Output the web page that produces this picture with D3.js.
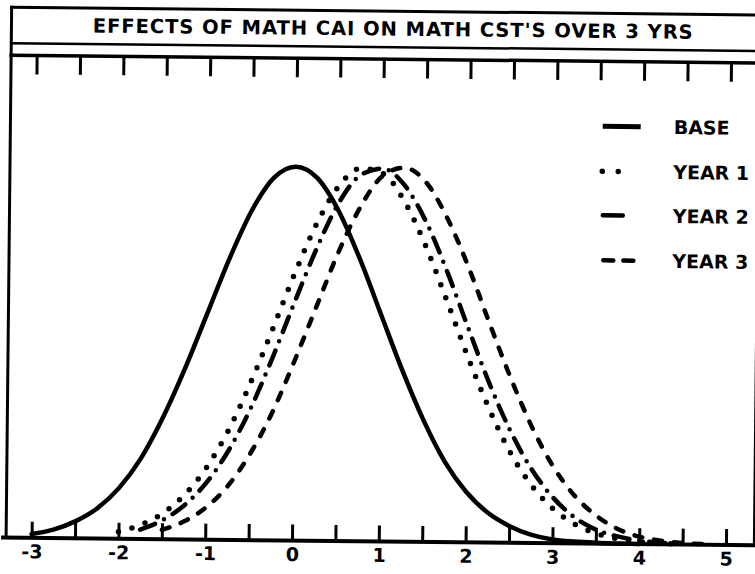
<!DOCTYPE html>
<html><head><meta charset="utf-8">
<script src="https://cdn.jsdelivr.net/npm/d3@7"></script>
<style>html,body{margin:0;padding:0;background:#fff;} svg{display:block;}</style>
</head><body>
<svg id="chart" width="755" height="574"></svg>
<script>
// ---------------- data ----------------
const chartTitle = "EFFECTS OF MATH CAI ON MATH CST'S OVER 3 YRS";
const seriesNames = ["BASE", "YEAR 1", "YEAR 2", "YEAR 3"];
const xTickValues = [-3,-2.5,-2,-1.5,-1,-0.5,0,0.5,1,1.5,2,2.5,3,3.5,4,4.5,5];
const xTickLabels = ["-3","-2","-1","0","1","2","3","4","5"];

const baseX  = [-3,-2.75,-2.5,-2.25,-2,-1.75,-1.5,-1.25,-1,-0.75,-0.5,-0.25,0,0.25,0.5,0.75,1,1.25,1.5,1.75,2,2.25,2.5,2.75,3,3.25,3.5,3.75,4];
const baseY  = [0.004,0.009,0.018,0.032,0.054,0.086,0.130,0.183,0.242,0.301,0.352,0.387,0.399,0.387,0.352,0.301,0.242,0.183,0.130,0.086,0.054,0.032,0.018,0.009,0.004,0.002,0.001,0.0005,0.0002];

const year1X = [-2,-1.75,-1.5,-1.25,-1,-0.75,-0.5,-0.25,0,0.25,0.5,0.75,1,1.25,1.5,1.75,2,2.25,2.5,2.75,3,3.25,3.5,3.75,4,4.25,4.5];
const year1Y = [0.0075,0.015,0.027,0.047,0.076,0.116,0.167,0.225,0.285,0.339,0.379,0.398,0.393,0.364,0.317,0.259,0.199,0.144,0.097,0.062,0.037,0.021,0.011,0.0055,0.0025,0.0011,0.0005];

const year2X = [-1.75,-1.5,-1.25,-1,-0.75,-0.5,-0.25,0,0.25,0.5,0.75,1,1.25,1.5,1.75,2,2.25,2.5,2.75,3,3.25,3.5,3.75,4,4.25,4.5];
const year2Y = [0.010,0.020,0.036,0.060,0.094,0.139,0.194,0.254,0.312,0.361,0.391,0.398,0.381,0.343,0.290,0.230,0.171,0.120,0.079,0.049,0.028,0.015,0.008,0.004,0.0017,0.0007];

const year3X = [-1.5,-1.25,-1,-0.75,-0.5,-0.25,0,0.25,0.5,0.75,1,1.25,1.5,1.75,2,2.25,2.5,2.75,3,3.25,3.5,3.75,4,4.25,4.5,4.75];
const year3Y = [0.010,0.019,0.034,0.057,0.091,0.135,0.190,0.249,0.308,0.357,0.390,0.399,0.384,0.346,0.294,0.234,0.176,0.124,0.082,0.051,0.030,0.016,0.008,0.004,0.0018,0.0008];

// ---------------- layout ----------------
const W = 755, H = 574;
const frameL = 8.7, frameR = 757;
const titleTop = 11, titleBot = 47, bandLine = 59, axisY = 541.4;
const FONT = "'DejaVu Sans', Verdana, sans-serif";

const svg = d3.select("#chart");
svg.append("rect").attr("width", W).attr("height", H).attr("fill", "#fff");
// whole scanned sheet is slightly rotated
const g = svg.append("g").attr("transform", "rotate(0.6,377,290)");

const x = d3.scaleLinear().domain([-3, 5]).range([34.2, 728.6]);
const y = d3.scaleLinear().domain([0, 0.4]).range([axisY, 166.6]);

// frame and title box
const frameLine = (x1, y1, x2, y2, w) => g.append("line")
  .attr("x1", x1).attr("y1", y1).attr("x2", x2).attr("y2", y2)
  .attr("stroke", "#000").attr("stroke-width", w).attr("stroke-linecap", "square");
frameLine(frameL, titleTop, frameR, titleTop, 3);
frameLine(frameL, titleBot, frameR, titleBot, 2.5);
frameLine(frameL, bandLine, frameR, bandLine, 3.5);
frameLine(frameL, titleTop, frameL, axisY, 3);
frameLine(frameR, titleTop, frameR, axisY, 3);

g.append("text").attr("x", 390).attr("y", 35.5)
  .attr("text-anchor", "middle")
  .attr("font-family", FONT).attr("font-weight", "bold").attr("font-size", 19.5)
  .attr("textLength", 600).attr("lengthAdjust", "spacing")
  .text(chartTitle);

// top tick row
const topAxis = d3.axisBottom(x).tickValues(xTickValues).tickSize(19).tickFormat("");
const gt = g.append("g").attr("transform", `translate(0,${bandLine})`).call(topAxis);
gt.select(".domain").remove();
gt.selectAll(".tick line").attr("stroke", "#000").attr("stroke-width", 3);

// bottom axis
const botAxis = d3.axisBottom(x).tickValues(xTickValues).tickSize(-16).tickPadding(7)
  .tickFormat(d => Number.isInteger(d) ? xTickLabels[d + 3] : "");
const gb = g.append("g").attr("transform", `translate(0,${axisY})`).call(botAxis);
gb.select(".domain").remove();
gb.selectAll(".tick line").attr("stroke", "#000").attr("stroke-width", 3);
gb.selectAll(".tick text").attr("font-family", FONT).attr("font-weight", "bold")
  .attr("font-size", 19).attr("fill", "#000").attr("dy", "0.71em");
frameLine(frameL - 3, axisY, frameR, axisY, 4);

// curves
const styles = [
  {w: 4.5, dash: null,          cap: "round"},
  {w: 5.5, dash: "0 14",        cap: "round"},
  {w: 4.5, dash: "16 10 0 10",  cap: "round"},
  {w: 4.5, dash: "8 12",        cap: "round"}
];
const seriesX = [baseX, year1X, year2X, year3X];
const seriesY = [baseY, year1Y, year2Y, year3Y];
const line = d3.line().x(d => x(d[0])).y(d => y(d[1])).curve(d3.curveMonotoneX);
seriesNames.forEach((name, i) => {
  const pts = seriesX[i].map((v, j) => [v, seriesY[i][j]]);
  g.append("path").datum(pts).attr("d", line)
    .attr("fill", "none").attr("stroke", "#000")
    .attr("stroke-width", styles[i].w)
    .attr("stroke-linecap", styles[i].cap)
    .attr("stroke-linejoin", "round")
    .attr("stroke-dasharray", styles[i].dash);
});

// legend
const legendRows = [124, 169, 213, 258];
const legendSym = [[601, 639], [601, 633], [602, 634], [603, 633]];
const legendDash = [null, "0 16", "20 12 0 100", "10 10"];
seriesNames.forEach((name, i) => {
  g.append("line")
    .attr("x1", legendSym[i][0]).attr("x2", legendSym[i][1])
    .attr("y1", legendRows[i]).attr("y2", legendRows[i])
    .attr("stroke", "#000").attr("stroke-width", i === 0 ? 5 : styles[i].w)
    .attr("stroke-linecap", i === 0 ? "butt" : "round")
    .attr("stroke-dasharray", legendDash[i]);
  g.append("text").attr("x", 672).attr("y", legendRows[i] + 7)
    .attr("font-family", FONT).attr("font-weight", "bold").attr("font-size", 19)
    .text(name);
});
</script>
</body></html>
